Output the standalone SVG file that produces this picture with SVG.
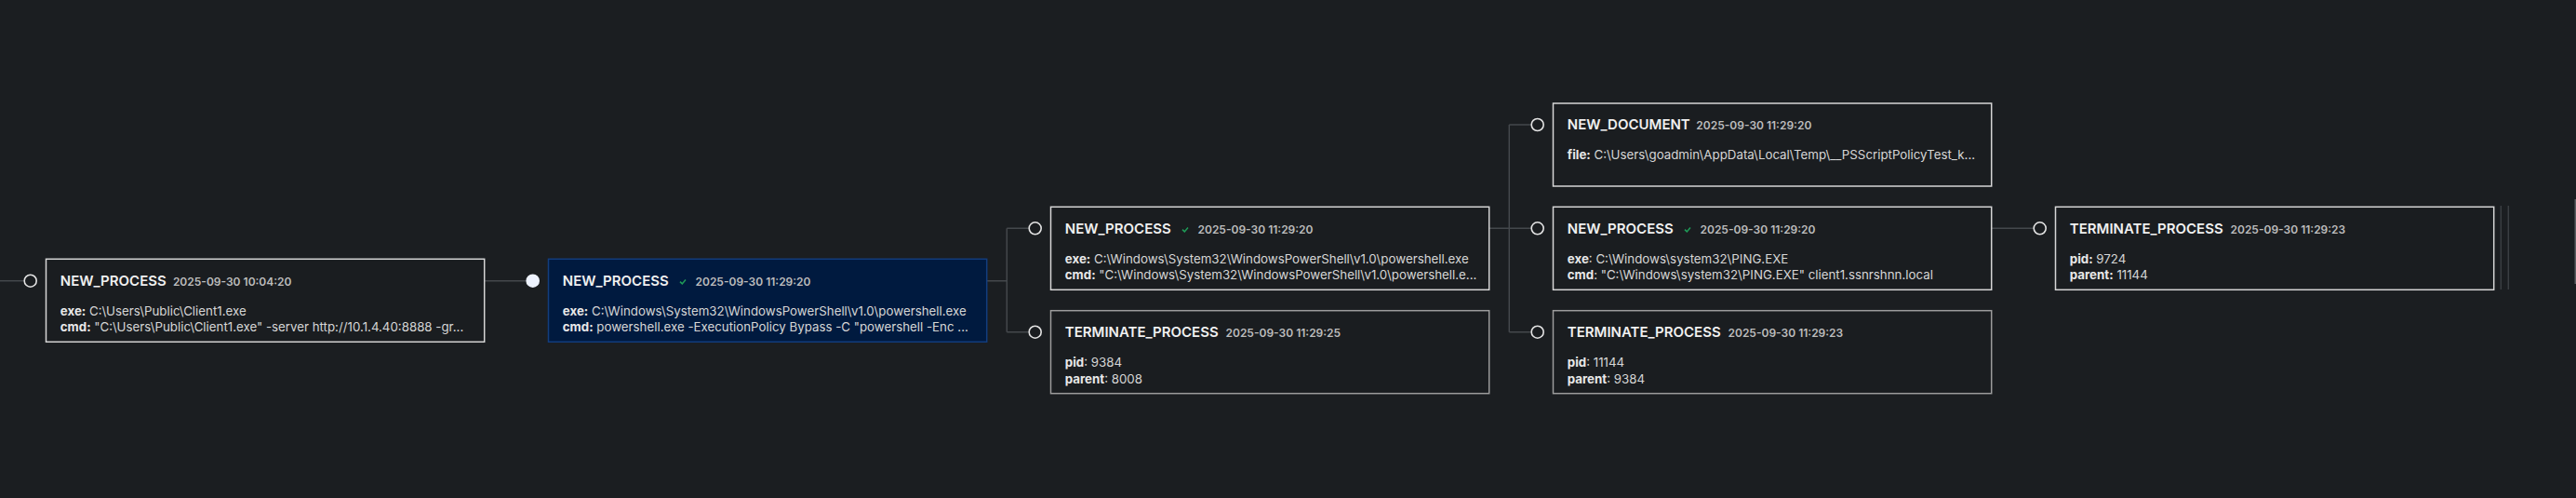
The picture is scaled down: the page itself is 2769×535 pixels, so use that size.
<svg xmlns="http://www.w3.org/2000/svg" width="2769" height="535" viewBox="0 0 2769 535">
<style>
.bg{fill:#1b1e21}
.box{fill:#1a1d20;stroke:#d6d6d6;stroke-width:1.5}
.box.dim{stroke:#9c9c9c}
.box.sel{fill:#001a3f;stroke:#123d7e}
.dot{fill:#1a1d20;stroke:#e4e4e4;stroke-width:1.6}
.dot.on{fill:#eef3ff;stroke:#eef3ff}
.edge{fill:none;stroke:#44484c;stroke-width:1.5}
.t{font-family:Inter,"Liberation Sans",sans-serif;font-size:15px;font-weight:600;fill:#f0f0f0}
.d{font-family:Inter,"Liberation Sans",sans-serif;font-size:12px;font-weight:600;fill:#bcbcbc}
.v{font-family:Inter,"Liberation Sans",sans-serif;font-size:13.3px;fill:#d6d6d6}
.k{font-weight:700;fill:#e8e8e8}
.ck{fill:none;stroke:#1f9d58;stroke-width:1.5}
.side{stroke:#3a3e42;stroke-width:1.5}
</style>
<rect class="bg" x="0" y="0" width="2769" height="535"/>
<g id="connectors">
<path class="edge" d="M0 301.7H26"/>
<path class="edge" d="M520.7 301.7H566"/>
<path class="edge" d="M1060.7 301.7H1082.3M1082.3 245.3V356.7M1082.3 245.3H1106M1082.3 356.7H1106"/>
<path class="edge" d="M1600.7 245.3H1622.3M1622.3 134V356.7M1622.3 134H1646M1622.3 245.3H1646M1622.3 356.7H1646"/>
<path class="edge" d="M2140.7 245.3H2186"/>
<line class="side" x1="2688.3" y1="221" x2="2688.3" y2="311"/>
<line class="side" x1="2696.3" y1="221" x2="2696.3" y2="311" stroke="#4a4e52"/>
<rect x="2767.5" y="214" width="1.5" height="91" fill="#5a5d60"/>
</g>
<g id="n1">
<circle class="dot" cx="32.7" cy="301.7" r="6.5"/>
<g transform="translate(49.5,278.3)">
<rect class="box" x="0" y="0" width="471.2" height="89"/>
<text class="t" x="15.3" y="28.4">NEW_PROCESS</text>
<text class="d" x="136.4" y="28.4">2025-09-30 10:04:20</text>
<text class="v" x="15.3" y="60.4"><tspan class="k">exe:</tspan> C:\Users\Public\Client1.exe</text>
<text class="v" x="15.3" y="78"><tspan class="k">cmd:</tspan> "C:\Users\Public\Client1.exe" -server http://10.1.4.40:8888 -gr...</text>
</g>
</g>
<g id="n2">
<circle class="dot on" cx="572.7" cy="301.7" r="6.5"/>
<g transform="translate(589.5,278.3)">
<rect class="box sel" x="0" y="0" width="471.2" height="89"/>
<text class="t" x="15.3" y="28.4">NEW_PROCESS</text>
<path class="ck" d="M141.5 24.3L143.8 26.6L147.5 22.3"/>
<text class="d" x="158" y="28.4">2025-09-30 11:29:20</text>
<text class="v" x="15.3" y="60.4"><tspan class="k">exe:</tspan> C:\Windows\System32\WindowsPowerShell\v1.0\powershell.exe</text>
<text class="v" x="15.3" y="78"><tspan class="k">cmd:</tspan> powershell.exe -ExecutionPolicy Bypass -C "powershell -Enc ...</text>
</g>
</g>
<g id="n3">
<circle class="dot" cx="1112.7" cy="245.3" r="6.5"/>
<g transform="translate(1129.5,222.3)">
<rect class="box" x="0" y="0" width="471.2" height="89"/>
<text class="t" x="15.3" y="28.4">NEW_PROCESS</text>
<path class="ck" d="M141.5 24.3L143.8 26.6L147.5 22.3"/>
<text class="d" x="158" y="28.4">2025-09-30 11:29:20</text>
<text class="v" x="15.3" y="60.4"><tspan class="k">exe:</tspan> C:\Windows\System32\WindowsPowerShell\v1.0\powershell.exe</text>
<text class="v" x="15.3" y="78"><tspan class="k">cmd:</tspan> "C:\Windows\System32\WindowsPowerShell\v1.0\powershell.e...</text>
</g>
</g>
<g id="n4">
<circle class="dot" cx="1112.7" cy="356.7" r="6.5"/>
<g transform="translate(1129.5,333.7)">
<rect class="box dim" x="0" y="0" width="471.2" height="89"/>
<text class="t" x="15.3" y="28.4">TERMINATE_PROCESS</text>
<text class="d" x="188" y="28.4">2025-09-30 11:29:25</text>
<text class="v" x="15.3" y="60.4"><tspan class="k">pid</tspan>: 9384</text>
<text class="v" x="15.3" y="78"><tspan class="k">parent</tspan>: 8008</text>
</g>
</g>
<g id="n5">
<circle class="dot" cx="1652.7" cy="134" r="6.5"/>
<g transform="translate(1669.5,111)">
<rect class="box" x="0" y="0" width="471.2" height="89"/>
<text class="t" x="15.3" y="28">NEW_DOCUMENT</text>
<text class="d" x="153.8" y="28">2025-09-30 11:29:20</text>
<text class="v" x="15.3" y="60"><tspan class="k">file:</tspan> C:\Users\goadmin\AppData\Local\Temp\__PSScriptPolicyTest_k...</text>
</g>
</g>
<g id="n6">
<circle class="dot" cx="1652.7" cy="245.3" r="6.5"/>
<g transform="translate(1669.5,222.3)">
<rect class="box" x="0" y="0" width="471.2" height="89"/>
<text class="t" x="15.3" y="28.4">NEW_PROCESS</text>
<path class="ck" d="M141.5 24.3L143.8 26.6L147.5 22.3"/>
<text class="d" x="158" y="28.4">2025-09-30 11:29:20</text>
<text class="v" x="15.3" y="60.4"><tspan class="k">exe</tspan>: C:\Windows\system32\PING.EXE</text>
<text class="v" x="15.3" y="78"><tspan class="k">cmd</tspan>: "C:\Windows\system32\PING.EXE" client1.ssnrshnn.local</text>
</g>
</g>
<g id="n7">
<circle class="dot" cx="1652.7" cy="356.7" r="6.5"/>
<g transform="translate(1669.5,333.7)">
<rect class="box dim" x="0" y="0" width="471.2" height="89"/>
<text class="t" x="15.3" y="28.4">TERMINATE_PROCESS</text>
<text class="d" x="188" y="28.4">2025-09-30 11:29:23</text>
<text class="v" x="15.3" y="60.4"><tspan class="k">pid</tspan>: 11144</text>
<text class="v" x="15.3" y="78"><tspan class="k">parent</tspan>: 9384</text>
</g>
</g>
<g id="n8">
<circle class="dot" cx="2192.7" cy="245.3" r="6.5"/>
<g transform="translate(2209.5,222.3)">
<rect class="box" x="0" y="0" width="471.2" height="89"/>
<text class="t" x="15.3" y="28.4">TERMINATE_PROCESS</text>
<text class="d" x="188" y="28.4">2025-09-30 11:29:23</text>
<text class="v" x="15.3" y="60.4"><tspan class="k">pid:</tspan> 9724</text>
<text class="v" x="15.3" y="78"><tspan class="k">parent:</tspan> 11144</text>
</g>
</g>
</svg>
